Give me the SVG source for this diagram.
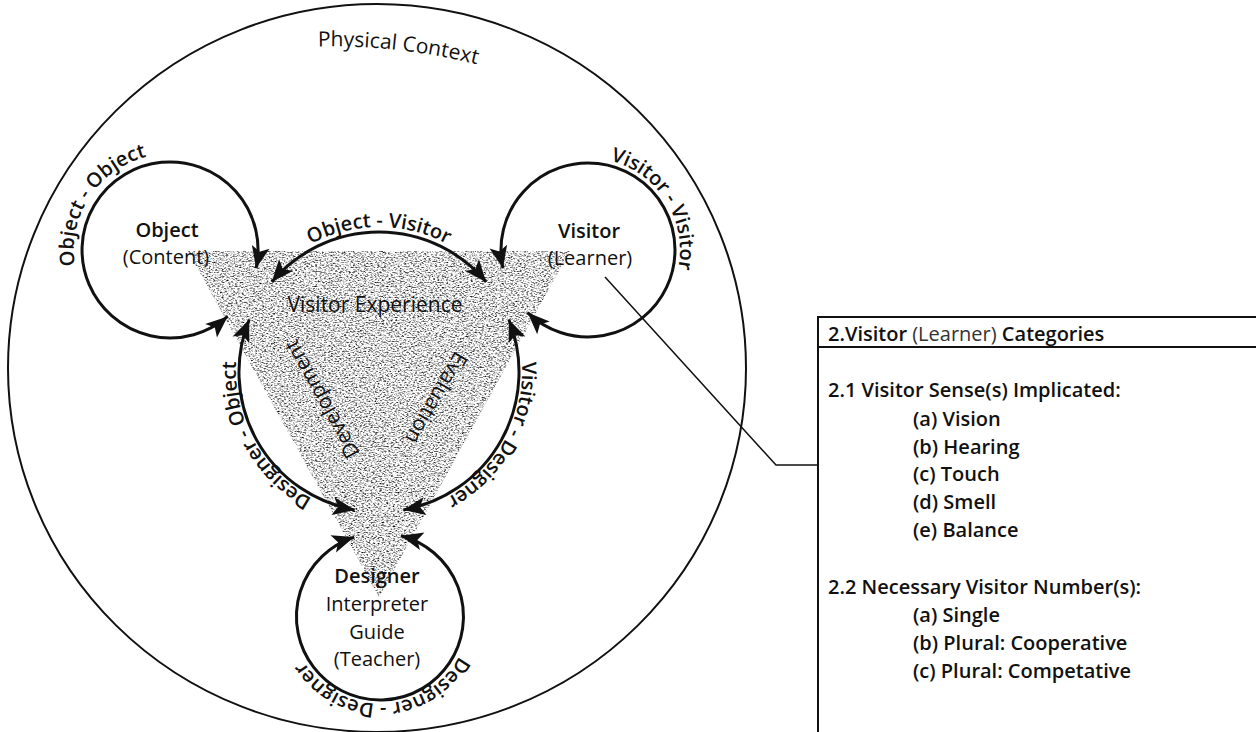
<svg xmlns="http://www.w3.org/2000/svg" width="1256" height="732" viewBox="0 0 1256 732">
<style>
.t{font-family:"Open Sans","Noto Sans",sans-serif;fill:#111}
.sb{font-weight:600}
.rg{font-weight:400}
.n20{font-size:20px}
.lbl{font-family:"Open Sans","Noto Sans",sans-serif;fill:#111;font-size:20px;font-weight:600}
.arc{fill:none;stroke:#111;stroke-width:3;marker-start:url(#ah);marker-end:url(#ah)}
.guide{fill:none;stroke:none}
.pt{font-family:"Open Sans","Noto Sans",sans-serif;fill:#111;font-size:20px;font-weight:600}
</style>
<defs>
<marker id="ah" markerUnits="userSpaceOnUse" markerWidth="24" markerHeight="20" refX="22" refY="9" orient="auto-start-reverse" overflow="visible">
<path d="M0,0 L22,9 L0,18 L5,9 z" fill="#111"/>
</marker>
<filter id="grain" x="0" y="0" width="1" height="1" color-interpolation-filters="sRGB">
<feTurbulence type="fractalNoise" baseFrequency="0.45 0.8" numOctaves="2" seed="7" result="n"/>
<feColorMatrix in="n" type="matrix" values="2.4 0 0 0 -0.33  2.4 0 0 0 -0.33  2.4 0 0 0 -0.33  0 0 0 0 1" result="g"/>
<feComposite in="g" in2="SourceGraphic" operator="in"/>
</filter>
<path id="pPhys" class="guide" d="M318,46.5 A600,600 0 0 1 560,91.8"/>
<path id="pOV" class="guide" d="M234,372 A145,145 0 0 1 524,372"/>
<path id="pDO" class="guide" d="M449.3,498.8 A145,145 0 0 1 308.7,245.2"/>
<path id="pVD" class="guide" d="M449.3,245.2 A145,145 0 0 1 308.7,498.8"/>
<path id="pOO" class="guide" d="M117.2,330.5 A96,96 0 0 1 222.8,169.5"/>
<path id="pVV" class="guide" d="M539.2,172 A92,92 0 0 1 636.8,328"/>
<path id="pDD" class="guide" d="M469.9,613.4 A90,90 0 0 1 290.1,619.6"/>
</defs>
<rect width="1256" height="732" fill="#fff"/>

<g id="physical-context">
<ellipse cx="377" cy="368" rx="369" ry="364" fill="none" stroke="#111" stroke-width="2"/>
<text class="t rg" font-size="21"><textPath href="#pPhys">Physical Context</textPath></text>
</g>

<g id="visitor-experience">
<polygon points="188,251 570,251 379,597" fill="#aaa" filter="url(#grain)"/>
<text class="t rg" font-size="21" x="375" y="312" text-anchor="middle">Visitor Experience</text>
<text class="t rg" font-size="21" text-anchor="middle" transform="translate(322,399) rotate(241)" y="7">Development</text>
<text class="t rg" font-size="21" text-anchor="middle" transform="translate(436,398) rotate(120)" y="7">Evaluation</text>
</g>

<g id="connectors">
<path class="arc" d="M227.7,316.4 A88,88 0 1 1 256.1,268.3"/>
<path class="arc" d="M527.6,312.6 A87,87 0 1 0 502.9,268.1"/>
<path class="arc" d="M354.2,537.1 A83.5,83.5 0 1 0 400.9,535.7"/>
<path class="arc" d="M271.8,282 A140,140 0 0 1 486.2,282"/>
<path class="arc" d="M508.8,319.5 A140,140 0 0 1 403.3,509.9"/>
<path class="arc" d="M354.7,509.9 A140,140 0 0 1 249.2,319.5"/>
<polyline points="605,277 776,465 818,465" fill="none" stroke="#111" stroke-width="1.5"/>
<text class="lbl"><textPath href="#pOV" startOffset="50%" text-anchor="middle">Object - Visitor</textPath></text>
<text class="lbl"><textPath href="#pDO" startOffset="50%" text-anchor="middle">Designer - Object</textPath></text>
<text class="lbl"><textPath href="#pVD" startOffset="50%" text-anchor="middle">Visitor - Designer</textPath></text>
<text class="lbl"><textPath href="#pOO" startOffset="50%" text-anchor="middle">Object - Object</textPath></text>
<text class="lbl"><textPath href="#pVV" startOffset="50%" text-anchor="middle">Visitor - Visitor</textPath></text>
<text class="lbl" font-size="19"><textPath href="#pDD" startOffset="50%" text-anchor="middle">Designer - Designer</textPath></text>
</g>

<g id="object">
<text class="t sb n20" x="167" y="237" text-anchor="middle">Object</text>
<text class="t rg n20" x="166" y="264" text-anchor="middle">(Content)</text>
</g>

<g id="visitor">
<text class="t sb n20" x="589" y="238" text-anchor="middle">Visitor</text>
<text class="t rg n20" x="590" y="265" text-anchor="middle">(Learner)</text>
</g>

<g id="designer">
<text class="t sb n20" x="377" y="583" text-anchor="middle">Designer</text>
<text class="t rg n20" x="377" y="611" text-anchor="middle">Interpreter</text>
<text class="t rg n20" x="377" y="639" text-anchor="middle">Guide</text>
<text class="t rg n20" x="377" y="666" text-anchor="middle">(Teacher)</text>
</g>

<g id="visitor-categories">
<rect x="818" y="317" width="460" height="440" fill="none" stroke="#111" stroke-width="2"/>
<line x1="818" y1="347" x2="1256" y2="347" stroke="#111" stroke-width="2"/>
<text class="pt" x="828" y="341" font-size="20.5">2.Visitor <tspan font-weight="400" fill="#333">(Learner)</tspan> Categories</text>
<text class="pt" x="828" y="397">2.1 Visitor Sense(s) Implicated:</text>
<text class="pt" x="913" y="426">(a) Vision</text>
<text class="pt" x="913" y="454">(b) Hearing</text>
<text class="pt" x="913" y="481">(c) Touch</text>
<text class="pt" x="913" y="509">(d) Smell</text>
<text class="pt" x="913" y="537">(e) Balance</text>
<text class="pt" x="828" y="594">2.2 Necessary Visitor Number(s):</text>
<text class="pt" x="913" y="622">(a) Single</text>
<text class="pt" x="913" y="650">(b) Plural: Cooperative</text>
<text class="pt" x="913" y="678">(c) Plural: Competative</text>
</g>
</svg>
